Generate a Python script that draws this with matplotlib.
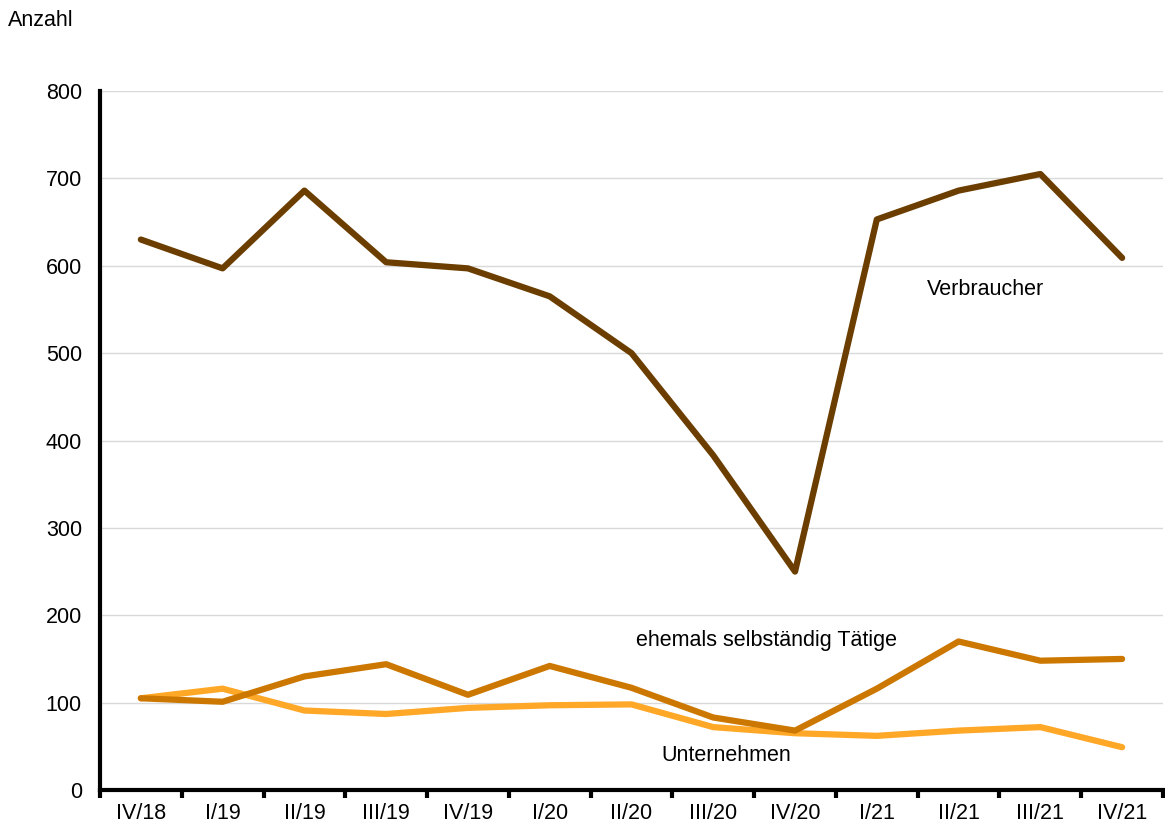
import matplotlib
matplotlib.use('Agg')
import matplotlib.pyplot as plt

quarters = ['IV/18', 'I/19', 'II/19', 'III/19', 'IV/19', 'I/20', 'II/20',
            'III/20', 'IV/20', 'I/21', 'II/21', 'III/21', 'IV/21']
verbraucher = [630, 597, 686, 604, 597, 565, 500, 383, 250, 653, 686, 705, 609]
ehemals = [105, 101, 130, 144, 109, 142, 117, 83, 68, 116, 170, 148, 150]
unternehmen = [105, 116, 91, 87, 94, 97, 98, 72, 65, 62, 68, 72, 49]

plt.rcParams['font.family'] = ['Liberation Sans', 'DejaVu Sans']
fs = 15.5

fig = plt.figure(figsize=(11.65, 8.25), dpi=100)
ax = fig.add_axes([0.0858, 0.0424, 0.9125, 0.8473])

x = list(range(len(quarters)))
ax.plot(x, unternehmen, color='#FFA726', lw=4.5, solid_capstyle='round', zorder=3)
ax.plot(x, ehemals, color='#CC7700', lw=4.5, solid_capstyle='round', zorder=4)
ax.plot(x, verbraucher, color='#6B3E00', lw=4.5, solid_capstyle='round', zorder=5)

ax.text(9.61, 573, 'Verbraucher', fontsize=fs, va='center')
ax.text(6.06, 171, 'ehemals selbständig Tätige', fontsize=fs, va='center')
ax.text(6.36, 39, 'Unternehmen', fontsize=fs, va='center')

ax.set_xlim(-0.5, len(quarters) - 0.5)
ax.set_ylim(0, 800)
ax.set_yticks(range(0, 801, 100))
ax.yaxis.grid(True, color='#d9d9d9', lw=1)
ax.set_axisbelow(True)

ax.set_xticks([i + 0.5 for i in range(-1, len(quarters))])
ax.set_xticklabels([])
ax.set_xticks(x, minor=True)
ax.set_xticklabels(quarters, minor=True, fontsize=fs)
ax.tick_params(axis='x', which='major', direction='out', length=6, width=3, color='black')
ax.tick_params(axis='x', which='minor', length=0, pad=9)
ax.tick_params(axis='y', length=0, labelsize=fs, pad=13)

for s in ['top', 'right']:
    ax.spines[s].set_visible(False)
ax.spines['left'].set_linewidth(3)
ax.spines['bottom'].set_linewidth(3)

fig.text(0.007, 0.975, 'Anzahl', fontsize=fs, va='center')

fig.savefig('out.png', dpi=100)
